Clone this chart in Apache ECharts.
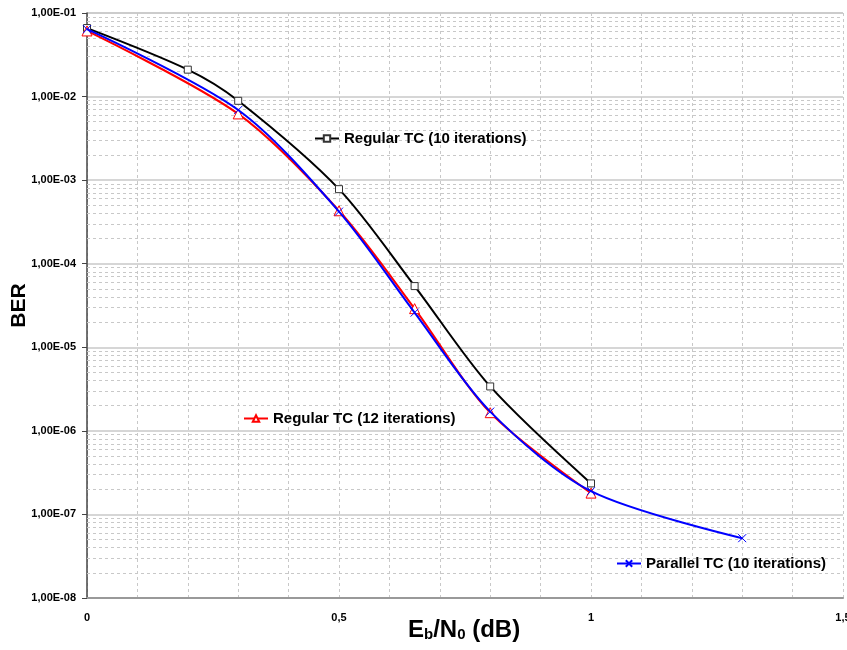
<!DOCTYPE html>
<html>
<head>
<meta charset="utf-8">
<script src="https://cdn.jsdelivr.net/npm/echarts@6/dist/echarts.min.js"></script>
<style>html,body{margin:0;padding:0;background:#fff;}#c{width:847px;height:650px;}</style>
</head>
<body>
<div id="c"></div>
<script>
// ---- data ----
const xRegular10 = [0, 0.2, 0.3, 0.5, 0.65, 0.8, 1.0];
const berRegular10 = [6.6e-2, 2.1e-2, 8.9e-3, 7.8e-4, 5.4e-5, 3.4e-6, 2.35e-7];
const xRegular12 = [0, 0.3, 0.5, 0.65, 0.8, 1.0];
const berRegular12 = [6.1e-2, 6.2e-3, 4.3e-4, 2.9e-5, 1.65e-6, 1.8e-7];
const xParallel10 = [0, 0.3, 0.5, 0.65, 0.8, 1.0, 1.3];
const berParallel10 = [6.4e-2, 6.9e-3, 4.2e-4, 2.6e-5, 1.7e-6, 1.9e-7, 5.2e-8];
const seriesNames = ['Regular TC (10 iterations)', 'Regular TC (12 iterations)', 'Parallel TC (10 iterations)'];
const xTickLabels = {0: '0', 0.5: '0,5', 1: '1', 1.5: '1,5'};

const FONT = '"Liberation Sans", Arial, sans-serif';
const zip = (xs, ys) => xs.map((x, i) => [x, ys[i]]);

// minor log gridlines (2..9 x each decade)
const minorY = [];
for (let e = -8; e <= -2; e++) for (let m = 2; m <= 9; m++) minorY.push(m * Math.pow(10, e));

const chart = echarts.init(document.getElementById('c'));
const lblStyle = {color: '#000', fontFamily: FONT, fontWeight: 'bold', fontSize: 15};
const legendCommon = {itemWidth: 24, itemHeight: 8, itemGap: 3, textStyle: lblStyle, selectedMode: false, padding: 0};

chart.setOption({
  animation: false,
  backgroundColor: '#fff',
  grid: {left: 87, right: 4, top: 13, bottom: 52, outerBoundsMode: 'none', containLabel: false},
  xAxis: {
    type: 'value', min: 0, max: 1.5, interval: 0.1,
    axisLine: {lineStyle: {color: '#999', width: 2}},
    axisTick: {show: false},
    axisLabel: {
      fontFamily: FONT, fontWeight: 'bold', fontSize: 11, color: '#000', margin: 14,
      formatter: v => { const k = Math.round(v * 10) / 10; return xTickLabels[k] !== undefined ? xTickLabels[k] : ''; }
    },
    splitLine: {show: true, lineStyle: {color: '#c8c8c8', type: [3, 3], width: 1}}
  },
  yAxis: {
    type: 'log', logBase: 10, min: 1e-8, max: 1e-1,
    name: 'BER', nameLocation: 'middle', nameGap: 57, nameRotate: 90, nameMoveOverlap: false,
    nameTextStyle: {fontFamily: FONT, fontWeight: 'bold', fontSize: 21, color: '#000'},
    axisLine: {show: true, lineStyle: {color: '#444', width: 1.5}},
    axisTick: {show: true, length: 5, lineStyle: {color: '#444'}},
    axisLabel: {
      fontFamily: FONT, fontWeight: 'bold', fontSize: 11, color: '#000', margin: 11,
      formatter: v => { const e = Math.round(Math.log10(v)); const a = Math.abs(e); return '1,00E' + (e < 0 ? '-' : '+') + (a < 10 ? '0' + a : a); }
    },
    splitLine: {show: true, lineStyle: {color: '#c8c8c8', width: 1.5}}
  },
  legend: [
    Object.assign({data: [seriesNames[0]], left: 314, top: 131}, legendCommon),
    Object.assign({data: [seriesNames[1]], left: 243, top: 411}, legendCommon),
    Object.assign({data: [seriesNames[2]], left: 616, top: 556}, legendCommon)
  ],
  graphic: [{
    type: 'text', left: 408, top: 618,
    style: {
      rich: {
        e: {fontFamily: FONT, fontWeight: 'bold', fontSize: 24, fill: '#000', verticalAlign: 'bottom'},
        s: {fontFamily: FONT, fontWeight: 'bold', fontSize: 15, fill: '#000', verticalAlign: 'bottom'}
      },
      text: '{e|E}{s|b}{e|/N}{s|0}{e| (dB)}'
    }
  }],
  series: [
    {
      name: 'minor-grid', type: 'lines', coordinateSystem: 'cartesian2d', silent: true, z: 1,
      polyline: false, symbol: 'none',
      lineStyle: {color: '#c8c8c8', type: [3, 3], width: 1, opacity: 1},
      data: minorY.map(v => ({coords: [[0, v], [1.5, v]]}))
    },
    {
      name: seriesNames[0], type: 'line', smooth: 0.3, data: zip(xRegular10, berRegular10),
      lineStyle: {color: '#000', width: 2}, itemStyle: {color: '#fff', borderColor: '#333', borderWidth: 1},
      symbol: 'rect', symbolSize: 7, color: '#000', z: 3
    },
    {
      name: seriesNames[1], type: 'line', smooth: 0.3, data: zip(xRegular12, berRegular12),
      lineStyle: {color: '#ff0000', width: 2}, itemStyle: {color: '#fff', borderColor: '#ff0000', borderWidth: 1},
      symbol: 'triangle', symbolSize: 10, color: '#ff0000', z: 4
    },
    {
      name: seriesNames[2], type: 'line', smooth: 0.3, data: zip(xParallel10, berParallel10),
      lineStyle: {color: '#0000ff', width: 2}, itemStyle: {color: 'none', borderColor: '#0000ff', borderWidth: 1},
      symbol: 'path://M0,0L10,10M10,0L0,10', symbolSize: 8, color: '#0000ff', z: 5
    }
  ]
});
</script>
</body>
</html>
